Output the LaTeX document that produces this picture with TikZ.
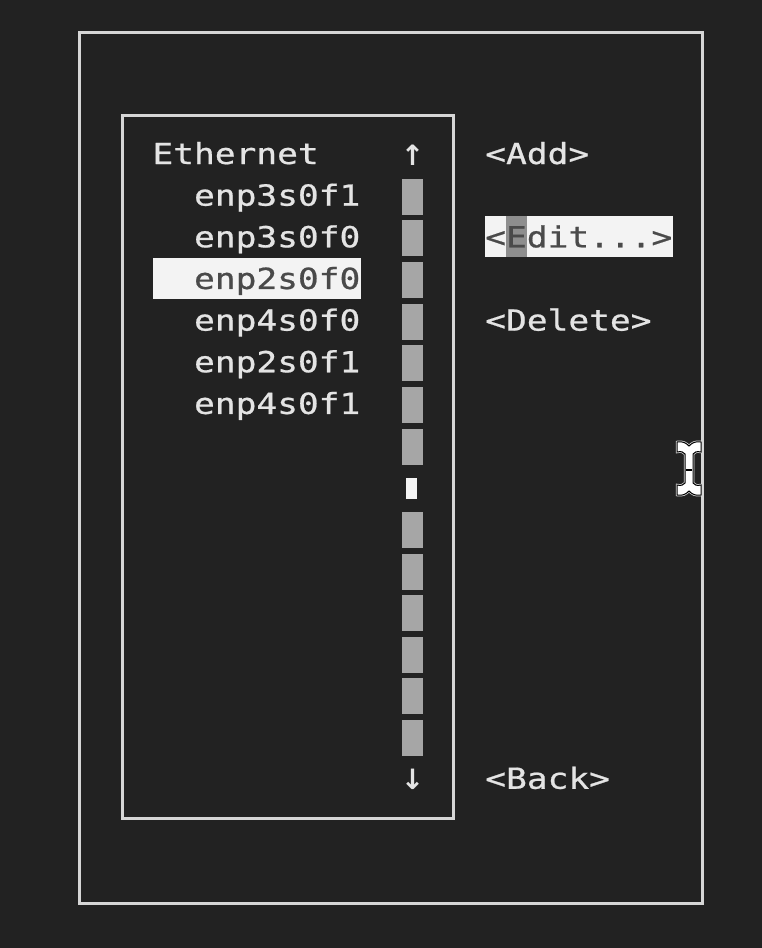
\documentclass[tikz,border=0pt]{standalone}
\usepackage{fontspec}
\newfontfamily\tuifont[FakeStretch=1.19,FakeBold=0.7]{DejaVu Sans Mono}
\newfontfamily\arrowfont{DejaVu Sans}
\definecolor{bgc}{HTML}{222222}
\definecolor{linec}{HTML}{D6D6D6}
\definecolor{txtc}{HTML}{E4E4E4}
\definecolor{blockc}{HTML}{A6A6A6}
\definecolor{thumbc}{HTML}{F4F4F4}
\definecolor{hlc}{HTML}{F3F3F3}
\definecolor{hltxt}{HTML}{4A4A4A}
\definecolor{curc}{HTML}{8E8E8E}
\tikzset{
  frame/.style={draw=linec, line width=3pt},
  tui/.style={anchor=base west, inner sep=0pt, outer sep=0pt, text=txtc, font=\tuifont\fontsize{29}{29}\selectfont},
  tuihl/.style={tui, text=hltxt},
  sbarrow/.style={anchor=base, inner sep=0pt, outer sep=0pt, text=txtc, font=\arrowfont\bfseries\fontsize{28}{28}\selectfont},
}
\newcommand{\rowb}[1]{164+41.65*#1}
\newcommand{\colx}[1]{152.5+20.8*#1}
\begin{document}
\begin{tikzpicture}[x=1pt,y=-1pt]
\fill[bgc] (0,0) rectangle (762,948);
\useasboundingbox (0,0) rectangle (762,948);
% boxes
\draw[frame] (79,32) rectangle (702,903);
\draw[frame] (122,115) rectangle (453,818);
% highlights
\fill[hlc] ({\colx{0}},{\rowb{3}-31}) rectangle ({\colx{10}},{\rowb{3}+10});
\fill[hlc] ({\colx{16}},{\rowb{2}-31}) rectangle ({\colx{25}},{\rowb{2}+10});
\fill[curc] ({\colx{17}},{\rowb{2}-31}) rectangle ({\colx{18}},{\rowb{2}+10});
% list
\node[tui] (eth) at ({\colx{0}},{\rowb{0}}) {Ethernet};
\node[tui] (i1) at ({\colx{2}},{\rowb{1}}) {enp3s0f1};
\node[tui] (i2) at ({\colx{2}},{\rowb{2}}) {enp3s0f0};
\node[tuihl] (i3) at ({\colx{2}},{\rowb{3}}) {enp2s0f0};
\node[tui] (i4) at ({\colx{2}},{\rowb{4}}) {enp4s0f0};
\node[tui] (i5) at ({\colx{2}},{\rowb{5}}) {enp2s0f1};
\node[tui] (i6) at ({\colx{2}},{\rowb{6}}) {enp4s0f1};
% scrollbar
\node[sbarrow] (up) at (412.5,{\rowb{0}+1}) {↑};
\node[sbarrow] (down) at (412.5,{\rowb{15}+1}) {↓};
\foreach \k in {1,...,7,9,10,...,14} {
  \fill[blockc] (402,{\rowb{\k}-27}) rectangle (423,{\rowb{\k}+9});
}
\fill[thumbc] (406,{\rowb{8}-19}) rectangle (417,{\rowb{8}+2});
% buttons
\node[tui] (add) at ({\colx{16}},{\rowb{0}}) {<Add>};
\node[tuihl] (edit) at ({\colx{16}},{\rowb{2}}) {<Edit...>};
\node[tui] (del) at ({\colx{16}},{\rowb{4}}) {<Delete>};
\node[tui] (back) at ({\colx{16}},{\rowb{15}}) {<Back>};
% I-beam mouse cursor
\def\ibeam{(677,442) .. controls (683,441) and (686,443) .. (689,446) .. controls (692,443) and (695,441) .. (701,442) -- (701,452) .. controls (697,451) and (694,452) .. (693,454) -- (693,483) .. controls (694,485) and (697,486) .. (701,485) -- (701,495) .. controls (695,496) and (692,494) .. (689,491) .. controls (686,494) and (683,496) .. (677,495) -- (677,485) .. controls (681,486) and (684,485) .. (685,483) -- (685,454) .. controls (684,452) and (681,451) .. (677,452) -- cycle}
\draw[white!85!black, line width=2.5pt] \ibeam;
\filldraw[fill=white, draw=black, line width=1pt] \ibeam;
\draw[black, line width=2pt] (686,470) -- (692,470);
\end{tikzpicture}
\end{document}
